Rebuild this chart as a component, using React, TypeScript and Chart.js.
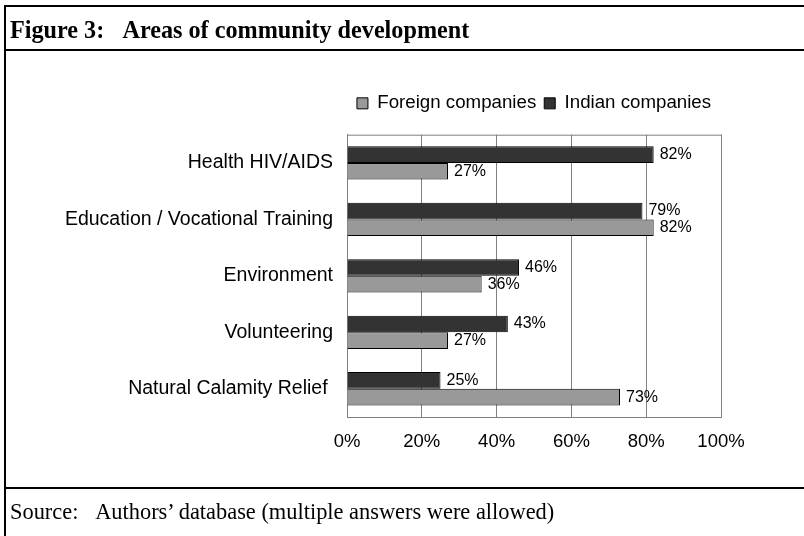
import React, { useEffect, useRef } from "react";
import { Chart, registerables } from "chart.js";

Chart.register(...registerables);

const categories = [
  "Health HIV/AIDS",
  "Education / Vocational Training",
  "Environment",
  "Volunteering",
  "Natural Calamity Relief ",
];
const indianValues = [82, 79, 46, 43, 25];
const foreignValues = [27, 82, 36, 27, 73];
const seriesNames = ["Indian companies", "Foreign companies"];
const titleText = "Figure 3:\u00a0\u00a0\u00a0Areas of community development";
const sourceText = "Source:\u00a0\u00a0\u00a0Authors\u2019 database (multiple answers were allowed)";

const SANS = "'Liberation Sans', Arial, sans-serif";
const SERIF = "'Liberation Serif', 'Times New Roman', serif";

const labelPlugin = {
  id: "barLabels",
  afterDatasetsDraw(chart: any) {
    const ctx = chart.ctx;
    ctx.save();
    ctx.font = `16px ${SANS}`;
    ctx.fillStyle = "#000";
    ctx.textAlign = "left";
    ctx.textBaseline = "middle";
    chart.data.datasets.forEach((ds: any, i: number) => {
      const meta = chart.getDatasetMeta(i);
      meta.data.forEach((el: any, j: number) => {
        ctx.fillText(ds.data[j] + "%", el.x + 6, el.y);
      });
    });
    ctx.restore();
  },
};

export default function App() {
  const ref = useRef<HTMLCanvasElement | null>(null);
  useEffect(() => {
    document.body.style.margin = "0";
    const chart = new Chart(ref.current!, {
      type: "bar",
      data: {
        labels: categories,
        datasets: [
          {
            label: seriesNames[0],
            data: indianValues,
            backgroundColor: "#333333",
            borderColor: "#000",
            borderWidth: 1,
          },
          {
            label: seriesNames[1],
            data: foreignValues,
            backgroundColor: "#999999",
            borderColor: "#000",
            borderWidth: 1,
          },
        ],
      },
      options: {
        indexAxis: "y",
        animation: false,
        responsive: false,
        layout: { padding: { top: 86, right: 83, bottom: 0, left: 0 } },
        plugins: {
          legend: {
            reverse: true,
            fullSize: false,
            weight: 3000,
            labels: {
              font: { family: SANS, size: 18.7 },
              color: "#000",
              boxWidth: 11,
              boxHeight: 11,
              padding: 8,
            },
          },
          title: {
            display: true,
            text: "",
            fullSize: false,
            weight: 1000,
            font: { size: 1, lineHeight: 1 },
            padding: { top: 0, bottom: 11 },
          },
          tooltip: { enabled: false },
        },
        datasets: {
          bar: { categoryPercentage: 0.59, barPercentage: 1.0 },
        },
        scales: {
          x: {
            min: 0,
            max: 100,
            ticks: {
              stepSize: 20,
              callback: (v: any) => v + "%",
              font: { family: SANS, size: 18.5 },
              color: "#000",
              padding: 14,
            },
            grid: { color: "#808080", drawTicks: false, lineWidth: 1 },
            border: { color: "#808080" },
            afterFit: (s: any) => {
              s.height = 119;
            },
          },
          y: {
            ticks: {
              font: { family: SANS, size: 19.5 },
              color: "#000",
              padding: 14,
            },
            grid: { display: false, drawTicks: false },
            border: { color: "#808080" },
            afterFit: (s: any) => {
              s.width = 347;
            },
          },
        },
      },
      plugins: [
        labelPlugin,
        {
          id: "frameRight",
          beforeDraw(c: any) {
            const { ctx, chartArea } = c;
            ctx.save();
            ctx.strokeStyle = "#808080";
            ctx.lineWidth = 1;
            ctx.beginPath();
            ctx.moveTo(chartArea.right + 0.5, chartArea.top);
            ctx.lineTo(chartArea.right + 0.5, chartArea.bottom);
            ctx.moveTo(chartArea.left, chartArea.top + 0.5);
            ctx.lineTo(chartArea.right, chartArea.top + 0.5);
            ctx.stroke();
            ctx.restore();
          },
        },
      ],
    });
    return () => chart.destroy();
  }, []);

  return (
    <div style={{ position: "relative", width: 804, height: 536, overflow: "hidden", background: "#fff" }}>
      <canvas ref={ref} width={804} height={536} style={{ position: "absolute", left: 0, top: 0 }} />
      <div
        style={{
          position: "absolute",
          left: 4,
          top: 5,
          width: 900,
          height: 600,
          borderLeft: "2px solid #000",
          borderTop: "2px solid #000",
          pointerEvents: "none",
        }}
      />
      <div style={{ position: "absolute", left: 4, top: 49, width: 900, height: 2, background: "#000" }} />
      <div style={{ position: "absolute", left: 4, top: 487, width: 900, height: 2, background: "#000" }} />
      <div
        style={{
          position: "absolute",
          left: 10,
          top: 15,
          fontFamily: SERIF,
          fontWeight: "bold",
          fontSize: 24.2,
          lineHeight: "30px",
          whiteSpace: "nowrap",
        }}
      >
        {titleText}
      </div>
      <div
        style={{
          position: "absolute",
          left: 10,
          top: 497,
          fontFamily: SERIF,
          fontSize: 22.4,
          lineHeight: "30px",
          whiteSpace: "nowrap",
        }}
      >
        {sourceText}
      </div>
    </div>
  );
}
